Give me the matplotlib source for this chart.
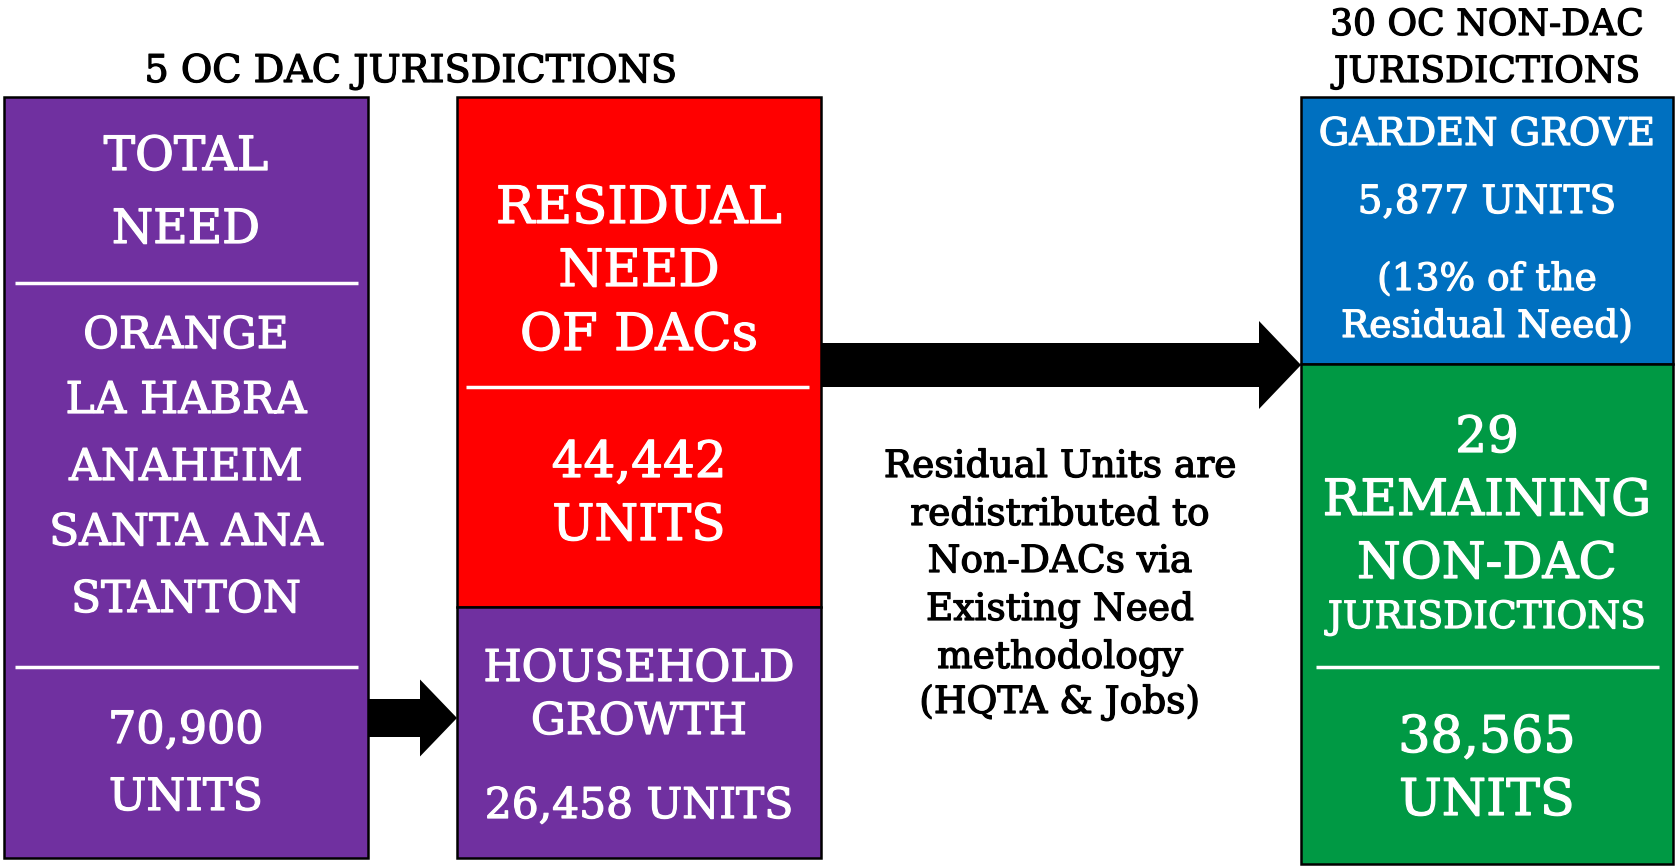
import matplotlib
matplotlib.use("Agg")
import matplotlib.pyplot as plt
import matplotlib.patheffects as pe
from matplotlib.patches import Rectangle, FancyArrow

# ---- content ----
left_title = "5 OC DAC JURISDICTIONS"
right_title = ["30 OC NON-DAC", "JURISDICTIONS"]
total_need_head = ["TOTAL", "NEED"]
dac_cities = ["ORANGE", "LA HABRA", "ANAHEIM", "SANTA ANA", "STANTON"]
total_need_units = ["70,900", "UNITS"]
residual_head = ["RESIDUAL", "NEED", "OF DACs"]
residual_units = ["44,442", "UNITS"]
household_head = ["HOUSEHOLD", "GROWTH"]
household_units = "26,458 UNITS"
gg_lines = ["GARDEN GROVE", "5,877 UNITS", "(13% of the", "Residual Need)"]
remaining_head = ["29", "REMAINING", "NON-DAC"]
remaining_sub = "JURISDICTIONS"
remaining_units = ["38,565", "UNITS"]
middle_note = ["Residual Units are", "redistributed to", "Non-DACs via",
               "Existing Need", "methodology", "(HQTA & Jobs)"]

PURPLE = "#7030A0"
RED = "#FF0000"
BLUE = "#0070C0"
GREEN = "#009944"

W, H = 1675, 867
fig = plt.figure(figsize=(W / 100, H / 100), dpi=100)
ax = fig.add_axes([0, 0, 1, 1])
ax.set_xlim(0, W)
ax.set_ylim(H, 0)
ax.axis("off")

FONT = "DejaVu Serif"


def box(x0, y0, x1, y1, color):
    ax.add_patch(Rectangle((x0, y0), x1 - x0, y1 - y0, facecolor=color,
                           edgecolor="black", linewidth=1.8, zorder=2))


def txt(x, y, s, size, color="white"):
    t = ax.text(x, y, s, fontsize=size, color=color, family=FONT,
                ha="center", va="baseline", zorder=5)
    t.set_path_effects([pe.withStroke(linewidth=0.9, foreground=color)])


def divider(x0, x1, y):
    ax.plot([x0, x1], [y, y], color="white", lw=2.5, zorder=4,
            solid_capstyle="butt")


# boxes
box(4, 97, 368, 858, PURPLE)
box(457, 97, 821, 607, RED)
box(457, 607, 821, 858, PURPLE)
box(1301, 97, 1673, 364, BLUE)
box(1301, 364, 1673, 864, GREEN)

# arrows
ax.add_patch(FancyArrow(368, 718, 89, 0, width=38, head_width=77,
                        head_length=37, length_includes_head=True,
                        color="black", zorder=3, linewidth=0))
ax.add_patch(FancyArrow(821, 365, 480, 0, width=44, head_width=88,
                        head_length=42, length_includes_head=True,
                        color="black", zorder=3, linewidth=0))

# titles
txt(411, 82, left_title, 27.5, "black")
for s, b in zip(right_title, [35, 82]):
    txt(1487, b, s, 26, "black")

# left purple box
cx = 186
for s, b in zip(total_need_head, [170, 243]):
    txt(cx, b, s, 34)
divider(15, 358, 283)
for s, b in zip(dac_cities, [348, 413, 480, 545, 612]):
    txt(cx, b, s, 31.5)
divider(15, 358, 667)
for s, b in zip(total_need_units, [743, 810]):
    txt(cx, b, s, 32)

# red box
cx = 639
for s, b in zip(residual_head, [223, 286, 350]):
    txt(cx, b, s, 37)
divider(466, 809, 387)
for s, b in zip(residual_units, [477, 540]):
    txt(cx, b, s, 36)

# household growth box
for s, b in zip(household_head, [681, 734]):
    txt(cx, b, s, 31.5)
txt(cx, 818, household_units, 30.5)

# middle note
for s, b in zip(middle_note, [477, 525, 572, 620, 668, 713]):
    txt(1060, b, s, 27, "black")

# Garden Grove box
cx = 1487
for s, b, fs in zip(gg_lines, [145, 213, 290, 337], [27.5, 28, 27, 27]):
    txt(cx, b, s, fs)

# remaining box
for s, b in zip(remaining_head, [452, 515, 578]):
    txt(cx, b, s, 36)
txt(cx, 628, remaining_sub, 27)
divider(1316, 1659, 667)
for s, b in zip(remaining_units, [752, 815]):
    txt(cx, b, s, 36.5)

fig.savefig("out.png", dpi=100, facecolor="white")
